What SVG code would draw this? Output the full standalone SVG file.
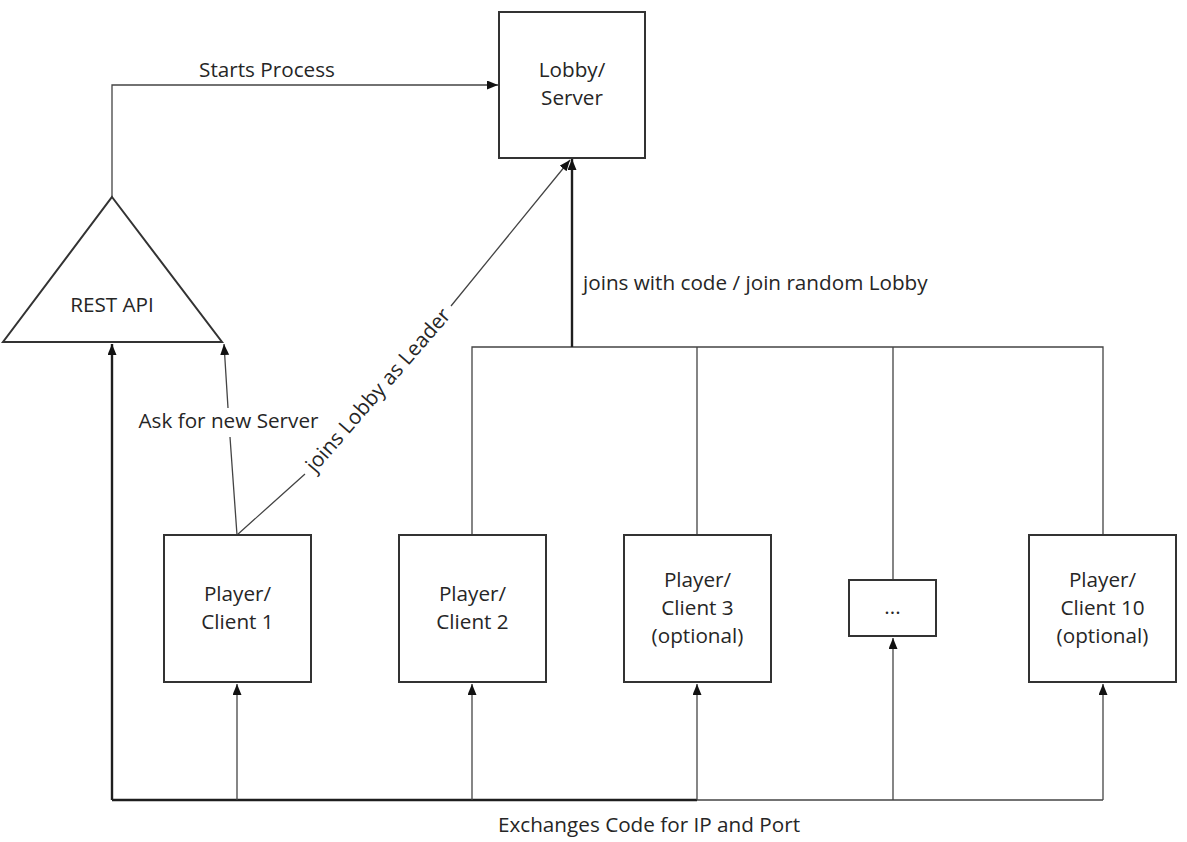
<svg xmlns="http://www.w3.org/2000/svg" width="1187" height="842" viewBox="0 0 1187 842">
<style>
.node{fill:#fff;stroke:#333;stroke-width:2}
.t{font-family:"Open Sans","Liberation Sans",sans-serif;font-size:20.7px;fill:#262626}
.c{text-anchor:middle}
.thin{fill:none;stroke:#444;stroke-width:1.3}
.thick{fill:none;stroke:#1e1e1e;stroke-width:2.4}
</style>
<defs>
<marker id="arr" markerUnits="userSpaceOnUse" markerWidth="12" markerHeight="10" refX="11" refY="4.5" orient="auto">
<path d="M0,0 L11,4.5 L0,9 Z" fill="#111"/>
</marker>
</defs>
<rect width="1187" height="842" fill="#fff"/>
<g id="connectors">
<path class="thin" d="M112,197 V85 H498" marker-end="url(#arr)"/>
<path class="thin" d="M237,535 L230,437 M228,408 L224,344" marker-end="url(#arr)"/>
<path class="thin" d="M237,535 L305,474 M451,306 L570,160" marker-end="url(#arr)"/>
<path class="thin" d="M472,535 V347 H1103 V535 M697,535 V347 M893,580 V347"/>
<path class="thick" d="M572,347 V159" marker-end="url(#arr)"/>
<path class="thick" d="M112,800 V344" marker-end="url(#arr)"/>
<path class="thick" d="M112,800 H697"/>
<path class="thin" d="M697,800 H1103"/>
<path class="thin" d="M237,800 V684" marker-end="url(#arr)"/>
<path class="thin" d="M472,800 V684" marker-end="url(#arr)"/>
<path class="thin" d="M697,800 V684" marker-end="url(#arr)"/>
<path class="thin" d="M893,800 V638" marker-end="url(#arr)"/>
<path class="thin" d="M1103,800 V684" marker-end="url(#arr)"/>
<text class="t c" x="267" y="77">Starts Process</text>
<text class="t c" x="228.5" y="428">Ask for new Server</text>
<text class="t c" transform="translate(378,390) rotate(-49)" x="0" y="7">joins Lobby as Leader</text>
<text class="t" x="583" y="290">joins with code / join random Lobby</text>
<text class="t c" x="649" y="832">Exchanges Code for IP and Port</text>
</g>
<g id="lobby">
<rect class="node" x="499" y="12" width="146" height="146"/>
<text class="t c" x="572" y="77">Lobby/</text>
<text class="t c" x="572" y="105">Server</text>
</g>
<g id="rest-api">
<path class="node" d="M112,197 L222,342 L3,342 Z"/>
<text class="t c" x="112" y="312">REST API</text>
</g>
<g id="client1">
<rect class="node" x="164" y="535" width="147" height="147"/>
<text class="t c" x="237.5" y="601">Player/</text>
<text class="t c" x="237.5" y="629">Client 1</text>
</g>
<g id="client2">
<rect class="node" x="399" y="535" width="147" height="147"/>
<text class="t c" x="472.5" y="601">Player/</text>
<text class="t c" x="472.5" y="629">Client 2</text>
</g>
<g id="client3">
<rect class="node" x="624" y="535" width="147" height="147"/>
<text class="t c" x="697.5" y="587">Player/</text>
<text class="t c" x="697.5" y="615">Client 3</text>
<text class="t c" x="697.5" y="643">(optional)</text>
</g>
<g id="more">
<rect class="node" x="849" y="580" width="87" height="56"/>
<text class="t c" x="892.5" y="614">...</text>
</g>
<g id="client10">
<rect class="node" x="1029" y="535" width="147" height="147"/>
<text class="t c" x="1102.5" y="587">Player/</text>
<text class="t c" x="1102.5" y="615">Client 10</text>
<text class="t c" x="1102.5" y="643">(optional)</text>
</g>
</svg>
